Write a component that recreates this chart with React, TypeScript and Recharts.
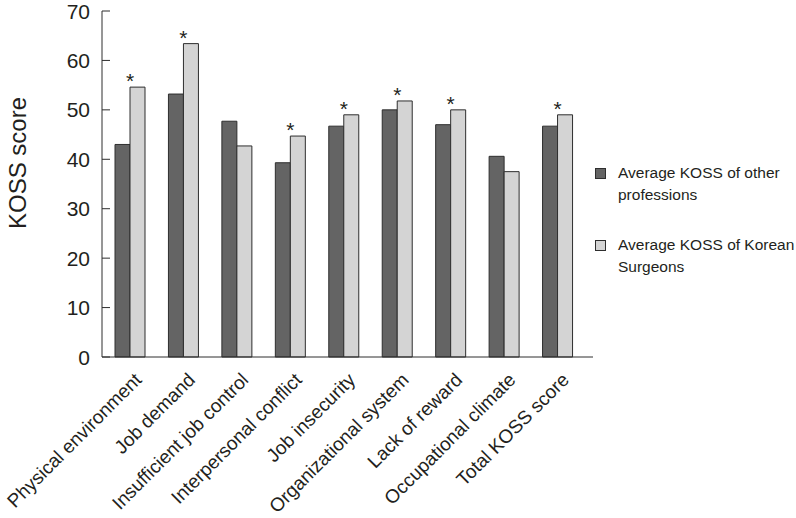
import React from 'react';
import { BarChart, Bar, XAxis, YAxis, Legend, LabelList } from 'recharts';

const categories = [
  'Physical environment',
  'Job demand',
  'Insufficient job control',
  'Interpersonal conflict',
  'Job insecurity',
  'Organizational system',
  'Lack of reward',
  'Occupational climate',
  'Total KOSS score',
];
const otherProfessions = [43.0, 53.2, 47.7, 39.3, 46.7, 50.0, 47.0, 40.6, 46.7];
const koreanSurgeons = [54.6, 63.4, 42.7, 44.7, 49.0, 51.8, 50.0, 37.5, 49.0];
const significant = [true, true, false, true, true, true, true, false, true];
const yTicks = [0, 10, 20, 30, 40, 50, 60, 70];
const seriesNames = ['Average KOSS of other professions', 'Average KOSS of Korean Surgeons'];

const data = categories.map((c, i) => ({
  name: c,
  other: otherProfessions[i],
  surgeons: koreanSurgeons[i],
}));

const FONT = '"Liberation Sans", Arial, Helvetica, sans-serif';
const DARK = '#646464';
const LIGHT = '#d4d4d4';
const STROKE = '#2e2e2e';
const TEXT = '#231f20';

const YTick = (props: any) => {
  const { x, y, payload } = props;
  return (
    <g>
      <line x1={x + 12} x2={x + 20} y1={y} y2={y} stroke={STROKE} strokeWidth={1} />
      <text x={x} y={y} dy="0.36em" textAnchor="end" fontFamily={FONT} fontSize={21} fill={TEXT}>
        {payload.value}
      </text>
    </g>
  );
};

const XTick = (props: any) => {
  const { x, y, payload } = props;
  const tx = x + 13;
  const ty = y + 24;
  return (
    <text
      x={tx}
      y={ty}
      textAnchor="end"
      transform={`rotate(-45, ${tx}, ${ty})`}
      fontFamily={FONT}
      fontSize={19}
      fill={TEXT}
    >
      {payload.value}
    </text>
  );
};

const Star = (props: any) => {
  const { x, y, index } = props;
  if (!significant[index]) return null;
  return (
    <text x={x} y={y + 1} textAnchor="middle" fontFamily={FONT} fontSize={21} fill={TEXT}>
      *
    </text>
  );
};

const YLabel = () => (
  <text
    x={26}
    y={163}
    transform="rotate(-90, 26, 163)"
    textAnchor="middle"
    fontFamily={FONT}
    fontSize={24}
    fill={TEXT}
  >
    KOSS score
  </text>
);

const LegendContent = () => {
  const items = [
    { name: seriesNames[0], color: DARK },
    { name: seriesNames[1], color: LIGHT },
  ];
  return (
    <div style={{ fontFamily: FONT, fontSize: 15.5, color: TEXT }}>
      {items.map((it, i) => {
        const cut = it.name.lastIndexOf(' ');
        return (
          <div
            key={i}
            style={{ position: 'relative', paddingLeft: 23, lineHeight: '22px', marginBottom: i === 0 ? 28 : 0, whiteSpace: 'nowrap' }}
          >
            <span
              style={{
                position: 'absolute',
                left: 0,
                top: 6,
                width: 9,
                height: 9,
                background: it.color,
                border: `1px solid ${STROKE}`,
              }}
            />
            <div>{it.name.slice(0, cut)}</div>
            <div>{it.name.slice(cut + 1)}</div>
          </div>
        );
      })}
    </div>
  );
};

export default function App() {
  return (
    <div style={{ position: 'absolute', left: 0, top: 0, width: 796, height: 518, background: '#fff', overflow: 'hidden' }}>
      <BarChart
        width={796}
        height={518}
        data={data}
        margin={{ top: 11, right: 203, bottom: 0, left: 0 }}
        barGap={0}
        barSize={15}
      >
        <XAxis
          dataKey="name"
          interval={0}
          height={161}
          tickLine={false}
          tickSize={0}
          tickMargin={0}
          axisLine={{ stroke: STROKE, strokeWidth: 1 }}
          padding={{ left: 1, right: 9 }}
          tick={<XTick />}
        />
        <YAxis
          width={102}
          domain={[0, 70]}
          ticks={yTicks}
          interval={0}
          tickLine={false}
          tickSize={0}
          tickMargin={12}
          axisLine={{ stroke: STROKE, strokeWidth: 1 }}
          tick={<YTick />}
          label={{ content: <YLabel /> }}
        />
        <Legend
          layout="vertical"
          align="center"
          verticalAlign="middle"
          content={<LegendContent />}
          wrapperStyle={{ position: 'absolute', left: 595, top: 162, width: 200 }}
        />
        <Bar dataKey="other" name={seriesNames[0]} fill={DARK} stroke={STROKE} strokeWidth={1} isAnimationActive={false} />
        <Bar dataKey="surgeons" name={seriesNames[1]} fill={LIGHT} stroke={STROKE} strokeWidth={1} isAnimationActive={false}>
          <LabelList dataKey="surgeons" content={<Star />} />
        </Bar>
      </BarChart>
    </div>
  );
}
